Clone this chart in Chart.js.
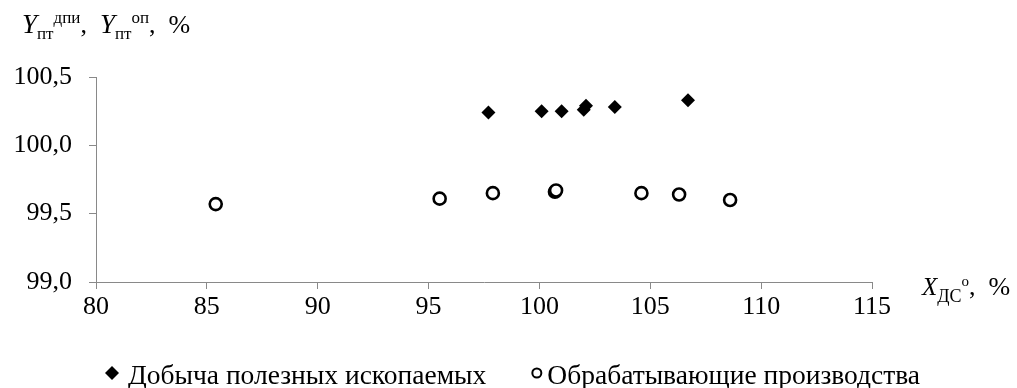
<!DOCTYPE html>
<html>
<head>
<meta charset="utf-8">
<script src="https://cdn.jsdelivr.net/npm/chart.js@4.4.1/dist/chart.umd.min.js"></script>
<style>
html,body{margin:0;padding:0;background:#fff}
#wrap{width:1017px;height:388px}
</style>
</head>
<body>
<div id="wrap"><canvas id="chart"></canvas></div>
<script>
/* ===== data ===== */
const seriesNames = ["Добыча полезных ископаемых", "Обрабатывающие производства"];

const miningX = [97.7, 100.1, 101.0, 102.0, 102.1, 103.4, 106.7];
const miningY = [100.24, 100.25, 100.25, 100.26, 100.29, 100.28, 100.33];

const manufX = [85.4, 95.5, 97.9, 100.7, 100.75, 104.6, 106.3, 108.6];
const manufY = [99.57, 99.61, 99.65, 99.66, 99.67, 99.65, 99.64, 99.60];

const xTicks = [80, 85, 90, 95, 100, 105, 110, 115];
const yTicks = [99.0, 99.5, 100.0, 100.5];

const FONT = '"Liberation Serif", "Times New Roman", serif';
const AXIS = "#898989";

function pairs(xs, ys){
    return xs.map((x, i) => ({x, y: ys[i]}));
}

/* ===== axis titles with sub/superscripts ===== */
function drawRich(ctx, x, y, parts){
    parts.forEach(p => {
        ctx.font = (p.italic ? "italic " : "") + p.size + "px " + FONT;
        ctx.fillText(p.text, x, y + (p.dy || 0));
        x += ctx.measureText(p.text).width;
    });
}

const axisTitles = {
    id: "axisTitles",
    afterDraw(chart){
        const ctx = chart.ctx;
        const area = chart.chartArea;
        ctx.save();
        ctx.fillStyle = "#000";
        ctx.textBaseline = "alphabetic";
        ctx.textAlign = "left";

        drawRich(ctx, 22, 33, [
            {text: "Y", size: 27, italic: true},
            {text: "пт", size: 17, dy: 6},
            {text: "дпи", size: 17, dy: -10},
            {text: ",  ", size: 26},
            {text: "Y", size: 27, italic: true},
            {text: "пт", size: 17, dy: 6},
            {text: "оп", size: 17, dy: -10},
            {text: ",  %", size: 26}
        ]);

        drawRich(ctx, area.right + 50, area.bottom + 13, [
            {text: "X", size: 25, italic: true},
            {text: "ДС", size: 18, dy: 7},
            {text: "о", size: 15, dy: -9},
            {text: ",  %", size: 26}
        ]);
        ctx.restore();
    }
};

/* ===== legend under the plot ===== */
const bottomLegend = {
    id: "bottomLegend",
    afterDraw(chart){
        const ctx = chart.ctx;
        const sets = chart.data.datasets;
        const baseline = 384;
        let x = 105;
        ctx.save();
        ctx.font = "27.5px " + FONT;
        ctx.textBaseline = "alphabetic";
        ctx.textAlign = "left";
        sets.forEach(ds => {
            const r = ds.legendRadius;
            ctx.fillStyle = ds.backgroundColor;
            ctx.strokeStyle = ds.borderColor;
            ctx.lineWidth = ds.legendBorder;
            Chart.helpers.drawPoint(ctx, {
                pointStyle: ds.pointStyle,
                radius: r,
                borderWidth: ds.legendBorder
            }, x + r, baseline - 11);
            ctx.fillStyle = "#000";
            const tx = x + 2 * r + ds.legendGap;
            ctx.fillText(ds.label, tx, baseline);
            x = tx + ctx.measureText(ds.label).width + 46;
        });
        ctx.restore();
    }
};

new Chart(document.getElementById("chart"), {

    type: "scatter",

    data: {
        datasets: [{
            label: seriesNames[0],
            data: pairs(miningX, miningY),
            pointStyle: "rectRot",
            pointRadius: 7,
            backgroundColor: "#000",
            borderColor: "#000",
            borderWidth: 0,
            legendRadius: 7,
            legendBorder: 0,
            legendGap: 9
        }, {
            label: seriesNames[1],
            data: pairs(manufX, manufY),
            pointStyle: "circle",
            pointRadius: 6,
            backgroundColor: "#fff",
            borderColor: "#000",
            borderWidth: 2.6,
            legendRadius: 4.5,
            legendBorder: 2,
            legendGap: 6
        }]
    },

    options: {
        responsive: true,
        maintainAspectRatio: false,
        animation: false,
        layout: {
            padding: {left: 0, right: 145, top: 77, bottom: 0}
        },
        plugins: {
            legend: {display: false},
            tooltip: {enabled: false}
        },
        scales: {
            x: {
                type: "linear",
                min: xTicks[0],
                max: xTicks[xTicks.length - 1],
                afterBuildTicks: s => { s.ticks = xTicks.map(v => ({value: v})); },
                afterFit: s => { s.height = 106; },
                grid: {drawOnChartArea: false, tickLength: 7, color: AXIS},
                border: {color: AXIS},
                ticks: {
                    color: "#000",
                    padding: 3,
                    font: {family: FONT, size: 26},
                    callback: v => String(v)
                }
            },
            y: {
                min: yTicks[0],
                max: yTicks[yTicks.length - 1],
                afterBuildTicks: s => { s.ticks = yTicks.map(v => ({value: v})); },
                afterFit: s => { s.width = 96; },
                grid: {drawOnChartArea: false, tickLength: 7, color: AXIS},
                border: {color: AXIS},
                ticks: {
                    color: "#000",
                    padding: 17,
                    font: {family: FONT, size: 26},
                    callback: v => v.toFixed(1).replace(".", ",")
                }
            }
        }
    },

    plugins: [axisTitles, bottomLegend]

});
</script>
</body>
</html>
